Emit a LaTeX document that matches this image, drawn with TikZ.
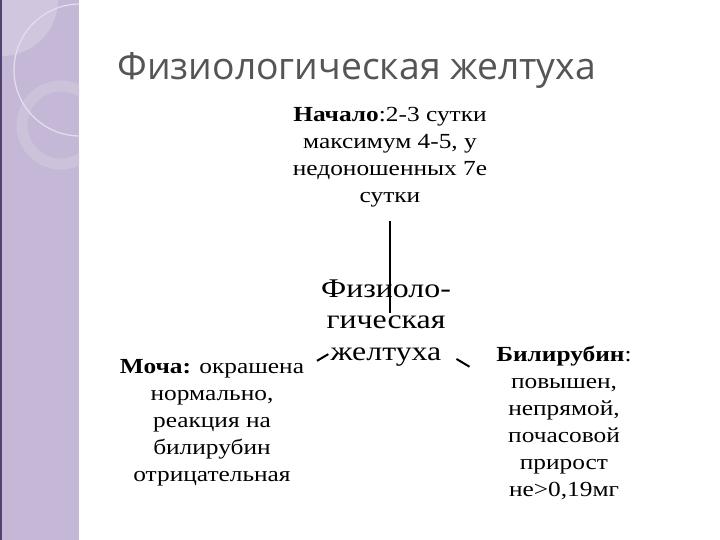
\documentclass[tikz,border=0pt]{standalone}
\usepackage{fontspec}
\setmainfont{Liberation Serif}[FakeStretch=1.18]
\newfontfamily\titlefont{Open Sans}
\usepackage{tikz}
\usetikzlibrary{positioning}
\definecolor{bandlav}{RGB}{197,184,214}
\definecolor{bandlight}{RGB}{208,198,222}
\definecolor{bandedge}{RGB}{82,66,110}
\definecolor{ringlav}{RGB}{204,195,219}
\definecolor{titlegray}{RGB}{85,85,85}
\tikzset{
    box/.style={align=center, inner sep=0pt, font=\fontsize{21.5}{27}\selectfont},
    core/.style={align=center, inner sep=0pt, font=\fontsize{27}{31.5}\selectfont},
    link/.style={draw=black, line width=2pt},
}

\begin{document}
\begin{tikzpicture}[x=1pt,y=-1pt]
\useasboundingbox (0,0) rectangle (720,540);

% side band
\begin{scope}
\clip (0,0) rectangle (79,540);
\fill [bandlav] (0,0) rectangle (79,540);
\fill [bandlight] (2,0) circle (56);
\draw [ringlav, line width=11pt] (61,125) circle (39);
\draw [white!55!bandlav, line width=1.2pt] (80,70) circle (66);
\fill [bandedge] (0,0) rectangle (1.5,540);
\end{scope}

\node [anchor=west, font=\titlefont\fontsize{37.3}{40}\selectfont, text=titlegray] at (114,70) (title) {Физиологическая желтуха};

\node [box] at (390,157) (start) {\textbf{Начало}:2-3 сутки\\ максимум 4-5, у\\ недоношенных 7е\\ сутки};
\node [core] at (386,323) (ctr) {Физиоло-\\гическая\\желтуха};
\node [box] at (212,423) (urine) {\textbf{Моча:} окрашена\\ нормально,\\ реакция на\\ билирубин\\ отрицательная};
\node [box] at (564,423) (bili) {\textbf{Билирубин}:\\ повышен,\\ непрямой,\\ почасовой\\ прирост\\ не>0,19мг};

\draw [link, shorten <=14pt, shorten >=10pt] (start.south) -- (start |- ctr.center);
\draw [link, shorten <=67pt, shorten >=122pt] ([yshift=3pt]ctr.center) -- (urine.center);
\draw [link, shorten <=82pt, shorten >=110pt] ([yshift=6pt]ctr.center) -- (bili.center);

\end{tikzpicture}
\end{document}
